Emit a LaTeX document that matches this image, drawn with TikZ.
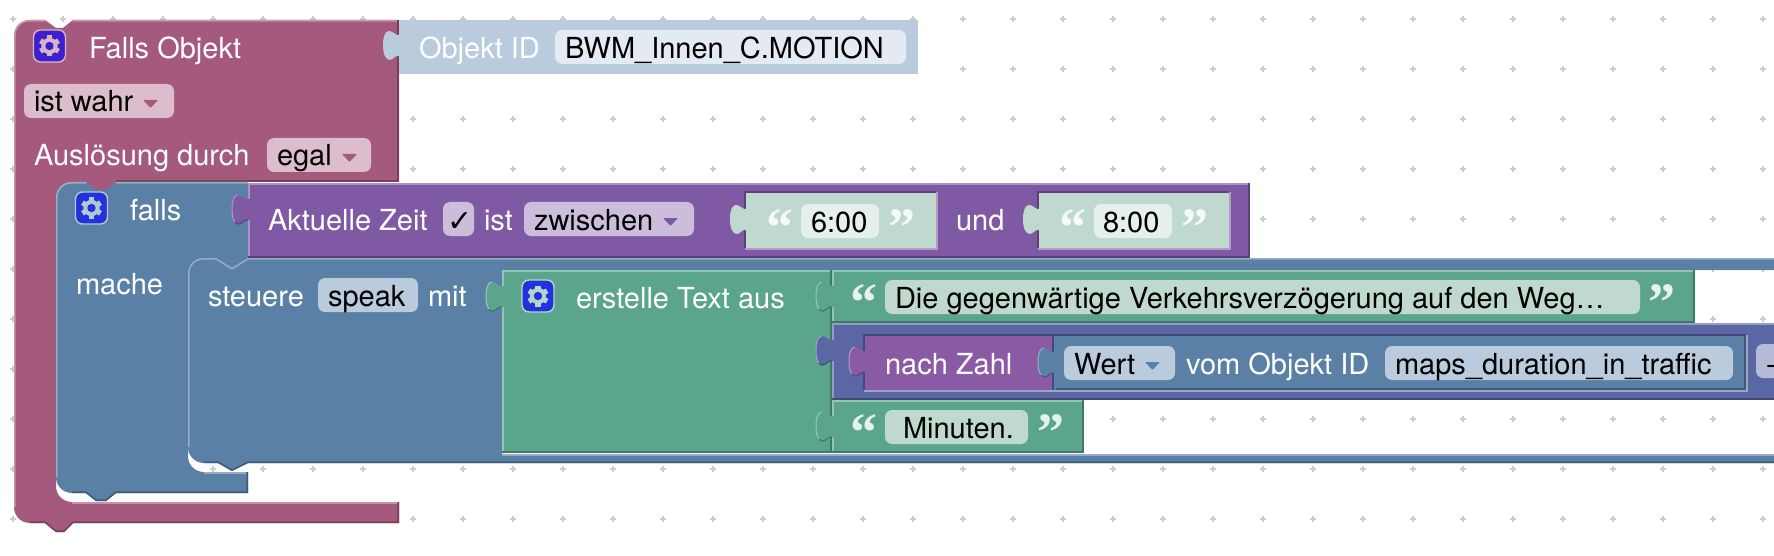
\documentclass[tikz,border=0pt]{standalone}
\usepackage{fontspec}
\setmainfont{TeX Gyre Heros}
\newfontfamily\quotefont{Liberation Serif}[BoldFont={Liberation Serif Bold}]
\newfontfamily\checkfont{DejaVu Sans}
\definecolor{pk}{HTML}{A55A7D}
\definecolor{bl}{HTML}{5A80A5}
\definecolor{pu}{HTML}{8059A5}
\definecolor{gr}{HTML}{5BA58C}
\definecolor{indg}{HTML}{5B67A5}
\definecolor{nz}{HTML}{8A5AA5}
\definecolor{oid}{HTML}{B9CBDC}
\definecolor{val}{HTML}{BFD9CF}
\definecolor{gridc}{HTML}{CCCCCC}
\definecolor{iconA}{HTML}{3D1FD0}
\definecolor{iconB}{HTML}{2233DD}
\tikzset{
  x=1pt,y=-1pt,
  lab/.style={anchor=base west,inner sep=0pt,outer sep=0pt,yshift=-1pt,font=\fontsize{29}{30}\selectfont},
  wlab/.style={lab,text=white},
  klab/.style={lab,text=black},
  qmark/.style={anchor=base west,inner sep=0pt,outer sep=0pt,text=white,text opacity=.85,
    font=\quotefont\bfseries\fontsize{54}{54}\selectfont},
}
% block rectangle with light top/left and dark bottom/right edge
\newcommand\blk[5]{%
  \fill[#5] (#1,#2) rectangle (#3,#4);
  \draw[#5!65!white,line width=1.6pt] (#1+.8,#4) -- (#1+.8,#2+.8) -- (#3,#2+.8);
  \draw[#5!72!black,line width=1.6pt] (#3-.8,#2) -- (#3-.8,#4-.8) -- (#1,#4-.8);
}
% value block set in a socket: dark top/left, light bottom/right
\newcommand\sock[6]{%
  \fill[#5] (#1,#2) rectangle (#3,#4);
  \draw[#6!72!black,line width=1.6pt] (#1-.8,#4) -- (#1-.8,#2-.8) -- (#3,#2-.8);
  \draw[#6!60!white,line width=1.6pt] (#3+.8,#2-.8) -- (#3+.8,#4+.8) -- (#1-.8,#4+.8);
}
% puzzle tab on a left edge, x = edge, y = top of the lobe
\newcommand\tabplain[3]{%
  \fill[#3] (#1+2,#2+4) -- (#1,#2+4) .. controls (#1-3,#2+5) and (#1-6,#2) .. (#1-10,#2)
    .. controls (#1-14,#2) and (#1-16,#2+6) .. (#1-16,#2+14)
    .. controls (#1-16,#2+22) and (#1-14,#2+29) .. (#1-9,#2+29)
    .. controls (#1-6,#2+29) and (#1-4,#2+24) .. (#1,#2+25) -- (#1+2,#2+25) -- cycle;
}
\newcommand\tabshape[3]{%
  \tabplain{#1}{#2}{#3}
  \draw[#3!62!white,line width=1pt] (#1-10,#2) .. controls (#1-14,#2) and (#1-16,#2+6) .. (#1-16,#2+14)
    .. controls (#1-16,#2+20) and (#1-15,#2+25) .. (#1-13,#2+27);
  \draw[#3!70!black,line width=1pt] (#1-13,#2+27) .. controls (#1-12,#2+29) and (#1-10,#2+29) .. (#1-9,#2+29)
    .. controls (#1-6,#2+29) and (#1-4,#2+24) .. (#1,#2+25);
}
% rounded field
\newcommand\fieldbox[5]{%
  \fill[#5,rounded corners=7pt] (#1,#2) rectangle (#3,#4);
}
% dropdown arrow
\newcommand\ddarrow[3]{\fill[#3,rounded corners=.8pt] (#1,#2) -- (#1+15,#2) -- (#1+7.5,#2+8) -- cycle;}
% gear icon
\newcommand\gearicon[4]{%
  \fill[#3,draw=#4,line width=1.4pt,rounded corners=7pt] (#1-16,#2-16) rectangle (#1+16,#2+16);
  \foreach \a in {0,60,...,300}{
    \fill[#4,rotate around={\a:(#1,#2)}] (#1-2.6,#2-10.5) rectangle (#1+2.6,#2-5);
  }
  \fill[#4] (#1,#2) circle (8.2pt);
  \fill[#3] (#1,#2) circle (4.2pt);
}
\begin{document}
\begin{tikzpicture}
\useasboundingbox (0,0) rectangle (1774,556);
\fill[white] (0,0) rectangle (1774,556);
\clip (0,0) rectangle (1774,556);
% grid
\foreach \gx in {13,63,...,1763}{
  \foreach \gy in {19,69,...,519}{
    \draw[gridc,line width=1.4pt] (\gx-3,\gy) -- (\gx+3,\gy) (\gx,\gy-3) -- (\gx,\gy+3);
  }
}
% ---- Pink block
\fill[pk] (30,20) -- (45,20) -- (56,28) -- (63,28) -- (73,20) -- (399,20) -- (399,182)
  -- (116,182) -- (106,191) -- (96,191) -- (86,182) -- (72,182)
  .. controls (63,182) and (56,189) .. (56,198) -- (56,486)
  .. controls (56,495) and (63,502) .. (72,502) -- (399,502) -- (399,523)
  -- (73,523) -- (64,532) -- (56,532) -- (45,523) -- (30,523)
  .. controls (21,523) and (14,516) .. (14,507) -- (14,36)
  .. controls (14,27) and (21,20) .. (30,20) -- cycle;
\draw[pk!65!white,line width=1.6pt] (14.8,507) -- (14.8,36) .. controls (14.8,27) and (21,20.8) .. (30,20.8) -- (45,20.8) (73,20.8) -- (399,20.8);
\draw[pk!72!black,line width=1.6pt] (398.2,20) -- (398.2,181.2) -- (116,181.2);
\draw[pk!65!white,line width=1.6pt] (72,502.8) -- (399,502.8);
\draw[pk!72!black,line width=1.6pt] (398.2,502) -- (398.2,522.2) -- (73,522.2) -- (64,531.2) -- (56,531.2) -- (45,522.2) -- (30,522.2);
% ---- Objekt ID block
\fill[oid] (399,20) rectangle (918,74);
\tabplain{399}{31}{oid}
% ---- Blue falls block
\fill[bl] (72,182) -- (86,182) -- (96,190) -- (106,190) -- (116,182) -- (248,182) -- (248,272)
  -- (204,272) -- (188,274) -- (188,456) .. controls (188,465) and (195,472) .. (204,472)
  -- (248,472) -- (248,493) -- (116,493) -- (106,501) -- (96,501) -- (86,493) -- (72,493)
  .. controls (63,493) and (56,486) .. (56,477) -- (56,198)
  .. controls (56,189) and (63,182) .. (72,182) -- cycle;
\draw[bl!65!white,line width=1.6pt] (56.8,477) -- (56.8,198) .. controls (56.8,189) and (63,182.8) .. (72,182.8) -- (86,182.8) (116,182.8) -- (248,182.8);
\draw[bl!65!white,line width=1.6pt] (204,472.8) -- (247,472.8);
\draw[bl!72!black,line width=1.6pt] (247.2,472) -- (247.2,492.2) -- (116,492.2) -- (106,500.2) -- (96,500.2) -- (86,492.2) -- (72,492.2);
% ---- steuere block (open to the right)
\fill[bl] (204,258) -- (216,258) -- (232,268) -- (248,258) -- (1774,258) -- (1774,270) -- (502,270)
  -- (502,454) -- (1774,454) -- (1774,463) -- (248,463) -- (232,471) -- (218,463) -- (204,463)
  .. controls (195,463) and (188,456) .. (188,447) -- (188,274)
  .. controls (188,265) and (195,258) .. (204,258) -- cycle;
\draw[bl!65!white,line width=1.6pt] (188.8,447) -- (188.8,274) .. controls (188.8,265) and (195,258.8) .. (204,258.8) -- (216,258.8) -- (232,268.8) -- (248,258.8) -- (1774,258.8);
\draw[bl!65!white,line width=1.6pt] (502,454.8) -- (1774,454.8);
\draw[bl!72!black,line width=1.6pt] (1774,462.2) -- (248,462.2) -- (232,470.2) -- (218,462.2) -- (204,462.2);
% ---- Purple Aktuelle Zeit
\blk{248}{183}{1250}{258}{pu}
\tabshape{248}{195}{pu}
% value blocks
\sock{746}{193}{936}{248}{val}{pu}
\tabplain{746}{205}{val}
\sock{1039}{193}{1229}{248}{val}{pu}
\tabplain{1039}{205}{val}
% ---- Green
\blk{502}{270}{832}{453}{gr}
\tabshape{502}{282}{gr}
\blk{832}{270}{1695}{323}{gr}
\tabshape{832}{282}{gr}
\blk{832}{400}{1084}{453}{gr}
\tabshape{832}{412}{gr}
% ---- Indigo row
\fill[indg] (832,323) rectangle (1774,400);
\draw[indg!65!white,line width=1.6pt] (832.8,400) -- (832.8,323.8) -- (1774,323.8);
\draw[indg!72!black,line width=1.6pt] (1774,399.2) -- (832,399.2);
\tabshape{832}{336}{indg}
% nach Zahl
\sock{865}{336}{1054}{390}{nz}{indg}
\tabshape{865}{347}{nz}
% Wert block
\sock{1054}{336}{1746}{390}{bl}{indg}
\draw[bl!72!black,line width=1.6pt] (1745.2,336) -- (1745.2,389.2) -- (1056,389.2);
\tabshape{1054}{348}{bl}
% ---- Fields
\fieldbox{24}{84}{174}{118}{pk!40!white}
\fieldbox{267}{138}{371}{172}{pk!40!white}
\fieldbox{555}{30}{906}{64}{white!60!oid}
\fieldbox{443}{202}{474}{236}{pu!40!white}
\fieldbox{524}{202}{694}{236}{pu!40!white}
\fieldbox{801}{204}{879}{238}{white!60!val}
\fieldbox{1094}{204}{1172}{238}{white!60!val}
\fieldbox{318}{278}{418}{312}{oid}
\fieldbox{885}{280}{1640}{314}{val}
\fieldbox{885}{410}{1028}{444}{val}
\fieldbox{1064}{346}{1175}{380}{oid}
\fieldbox{1385}{346}{1733}{380}{oid}
\fieldbox{1756}{344}{1800}{378}{indg!45!white}
\ddarrow{143}{100}{pk}
\ddarrow{342}{154}{pk}
\ddarrow{663}{218}{pu}
\ddarrow{1145}{362}{bl}
% ---- Gears
\gearicon{49.5}{46}{iconA}{pk!45!white}
\gearicon{91.5}{208}{iconB}{bl!45!white}
\gearicon{538}{296}{iconB}{gr!45!white}
% ---- Labels
\node[wlab] (t1) at (89,58) {Falls Objekt};
\node[klab] (t2) at (34,111) {ist wahr};
\node[wlab] (t3) at (34,165) {Auslösung durch};
\node[klab] (t4) at (277,165) {egal};
\node[wlab] (t5) at (419,58) {Objekt ID};
\node[klab] (t6) at (565,58) {BWM\_Innen\_C.MOTION};
\node[wlab] (t7) at (130,219) {falls};
\node[wlab] (t8) at (268,229) {Aktuelle Zeit};
\node[klab,font=\checkfont\bfseries\fontsize{30}{30}\selectfont] (t9) at (447,230) {✓};
\node[wlab] (t10) at (484,229) {ist};
\node[klab] (t11) at (534,229) {zwischen};
\node[klab] (t12) at (811,232) {6:00};
\node[wlab] (t13) at (956,229) {und};
\node[klab] (t14) at (1103,232) {8:00};
\node[wlab] (t15) at (76,293) {mache};
\node[wlab] (t16) at (208,305) {steuere};
\node[klab] (t17) at (328,305) {speak};
\node[wlab] (t18) at (428,305) {mit};
\node[wlab] (t19) at (576,307) {erstelle Text aus};
\node[klab] (t20) at (895,307) {Die gegenwärtige Verkehrsverzögerung auf den Weg…};
\node[wlab] (t21) at (885,373) {nach Zahl};
\node[klab] (t22) at (1074,373) {Wert};
\node[wlab] (t23) at (1186,373) {vom Objekt ID};
\node[klab] (t24) at (1395,373) {maps\_duration\_in\_traffic};
\node[klab] (t25) at (1766,373) {-};
\node[klab] (t26) at (903,437) {Minuten.};
% quote marks
\node[qmark] (q1) at (766,245) {“};
\node[qmark] (q2) at (888,245) {”};
\node[qmark] (q3) at (1059,245) {“};
\node[qmark] (q4) at (1181,245) {”};
\node[qmark] (q5) at (850,320) {“};
\node[qmark] (q6) at (1648,320) {”};
\node[qmark] (q7) at (850,450) {“};
\node[qmark] (q8) at (1037,450) {”};
\end{tikzpicture}
\end{document}
